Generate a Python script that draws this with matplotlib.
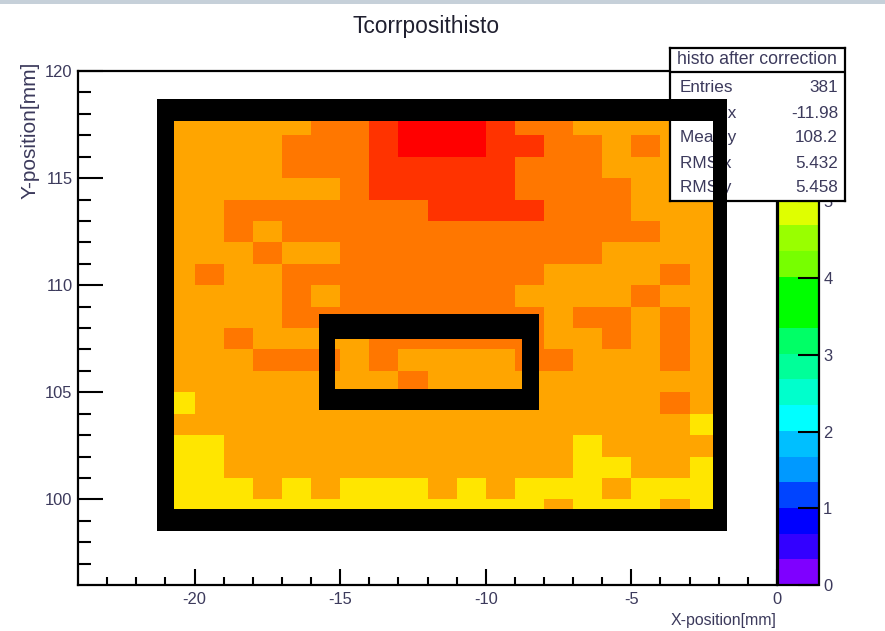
"""ROOT style COLZ histogram: Tcorrposithisto."""

import matplotlib

matplotlib.use("Agg")
import matplotlib.pyplot as plt
import numpy as np
from matplotlib import font_manager
from matplotlib.colors import BoundaryNorm, ListedColormap
from matplotlib.patches import Rectangle

# ---- data -------------------------------------------------------------
x_edges = np.arange(-21, -1)   # bin edges in mm, -21 .. -2
y_edges = np.arange(99, 119)   # bin edges in mm, 99 .. 118

# bin contents (top row = 117..118 mm)
Y, O, D, R, X = 5.2, 5.5, 5.85, 6.2, 6.55
contents_top_down = [
    [O, O, O, O, O, D, D, R, X, X, X, R, D, D, O, O, O, O, O],
    [O, O, O, O, D, D, D, R, X, X, X, R, R, D, D, O, D, O, O],
    [O, O, O, O, D, D, D, R, R, R, R, R, D, D, D, O, O, O, O],
    [O, O, O, O, O, O, D, R, R, R, R, R, D, D, D, D, O, O, O],
    [O, O, D, D, D, D, D, D, D, R, R, R, R, D, D, D, O, O, O],
    [O, O, D, O, D, D, D, D, D, D, D, D, D, D, D, D, D, O, O],
    [O, O, O, D, O, O, D, D, D, D, D, D, D, D, D, O, O, O, O],
    [O, D, O, O, D, D, D, D, D, D, D, D, D, O, O, O, O, D, O],
    [O, O, O, O, D, O, D, D, D, D, D, D, O, O, O, O, D, O, O],
    [O, O, O, O, D, D, D, D, D, D, D, D, D, O, D, D, O, D, O],
    [O, O, D, O, O, O, O, D, D, D, D, D, D, O, O, D, O, D, O],
    [O, O, O, D, D, D, O, D, O, O, O, O, D, D, O, O, O, D, O],
    [O, O, O, O, O, O, O, O, D, O, O, O, O, O, O, O, O, O, O],
    [Y, O, O, O, O, O, O, O, O, O, O, O, O, O, O, O, O, D, O],
    [O, O, O, O, O, O, O, O, O, O, O, O, O, O, O, O, O, O, Y],
    [Y, Y, O, O, O, O, O, O, O, O, O, O, O, O, Y, O, O, O, O],
    [Y, Y, O, O, O, O, O, O, O, O, O, O, O, O, Y, Y, O, O, Y],
    [Y, Y, Y, O, Y, O, Y, Y, Y, O, Y, O, Y, Y, Y, O, Y, Y, Y],
    [Y, Y, Y, Y, Y, Y, Y, Y, Y, Y, Y, Y, Y, O, Y, Y, Y, O, Y],
]

ZMAX = 6.7
z_ticks = [0, 1, 2, 3, 4, 5]
palette = [
    "#7f00ff", "#3300ff", "#0000ff", "#0044ff", "#0099ff",
    "#00bfff", "#00ffff", "#00ffcc", "#00ff99", "#00ff66",
    "#00ff00", "#00ff00", "#77ff00", "#99ff00", "#dfff00",
    "#ffe600", "#ffa500", "#ff7700", "#ff3300", "#ff0000",
]

stats_title = "histo after correction"
stats_names = ["Entries", "Mean x", "Mean y", "RMS x", "RMS y"]
stats_values = ["381", "-11.98", "108.2", "5.432", "5.458"]

# black boxes drawn over the map: (x_out0, x_out1, y_out0, y_out1, x_in0, x_in1, y_in0, y_in1)
outer_frame = (-21.28, -1.72, 98.54, 118.71, -20.69, -2.21, 99.55, 117.65)
inner_frame = (-15.73, -8.18, 104.15, 108.66, -15.16, -8.75, 105.16, 107.50)

# ---- layout -----------------------------------------------------------
W, H = 885, 631
TXT = "#3c3a5c"


def fig_rect(left, top, right, bottom):
    return [left / W, 1 - bottom / H, (right - left) / W, (bottom - top) / H]


names = {f.name for f in font_manager.fontManager.ttflist}
if "Liberation Sans Narrow" in names:
    NARROW, SCALE = "Liberation Sans Narrow", 1.0
else:
    NARROW, SCALE = "Liberation Sans", 0.82
plt.rcParams["font.family"] = [NARROW, "DejaVu Sans"]
plt.rcParams["axes.unicode_minus"] = False


def add_frame(fig, ax, box):
    xo0, xo1, yo0, yo1, xi0, xi1, yi0, yi1 = box
    bars = [
        (xo0, yo0, xi0 - xo0, yo1 - yo0),   # left
        (xi1, yo0, xo1 - xi1, yo1 - yo0),   # right
        (xo0, yi1, xo1 - xo0, yo1 - yi1),   # top
        (xo0, yo0, xo1 - xo0, yi0 - yo0),   # bottom
    ]
    for x0, y0, w, h in bars:
        fig.add_artist(Rectangle((x0, y0), w, h, transform=ax.transData,
                                 facecolor="black", edgecolor="none", zorder=5))


def main() -> None:
    fig = plt.figure(figsize=(W / 100, H / 100), dpi=100)
    fig.patches.append(Rectangle((0, 1 - 4 / H), 1, 4 / H, transform=fig.transFigure,
                                 facecolor="#c6d0d9", edgecolor="none"))

    ax = fig.add_axes(fig_rect(78, 71, 777, 585))
    cmap = ListedColormap(palette)
    norm = BoundaryNorm(np.linspace(0, ZMAX, len(palette) + 1), len(palette))
    values = np.flipud(np.array(contents_top_down))
    mesh = ax.pcolormesh(x_edges, y_edges, values, cmap=cmap, norm=norm,
                         edgecolors="none", antialiased=False)

    ax.set_xlim(-24, 0)
    ax.set_ylim(96, 120)
    ax.set_xticks(np.arange(-20, 1, 5))
    ax.set_xticks(np.arange(-23, 0, 1), minor=True)
    ax.set_yticks(np.arange(100, 121, 5))
    ax.set_yticks(np.arange(97, 120, 1), minor=True)
    for s in ax.spines.values():
        s.set_linewidth(1.6)
    ax.tick_params(axis="both", which="both", direction="in", width=1.5,
                   labelsize=14.5 * SCALE, labelcolor=TXT, top=False, right=False)
    ax.tick_params(axis="x", which="major", length=11.5, pad=5)
    ax.tick_params(axis="x", which="minor", length=5.8)
    ax.tick_params(axis="y", which="major", length=18, pad=4)
    ax.tick_params(axis="y", which="minor", length=9)

    # colour scale (its upper part sits under the stats box)
    cax = fig.add_axes(fig_rect(778, 71, 819, 585))
    cbar = fig.colorbar(mesh, cax=cax)
    cbar.set_ticks(z_ticks)
    cbar.outline.set_linewidth(1.6)
    cax.tick_params(direction="in", length=15, width=1.5, labelsize=14.5 * SCALE,
                    labelcolor=TXT, pad=3)
    cax.minorticks_off()

    # titles
    fig.text(426 / W, 1 - 26 / H, "Tcorrposithisto", ha="center", va="center",
             fontsize=20 * SCALE, color="#202030")
    fig.text(777 / W, 1 - 620 / H, "X-position[mm]", ha="right", va="center",
             fontsize=14 * SCALE, color=TXT)
    fig.text(30 / W, 1 - 62 / H, "Y-position[mm]", ha="center", va="top", rotation=90,
             fontsize=15, color=TXT, family=["Liberation Sans", "DejaVu Sans"])

    # stats box
    sax = fig.add_axes(fig_rect(670, 48, 845, 201), zorder=2)
    sax.set_xlim(670, 845)
    sax.set_ylim(201, 48)
    sax.set_xticks([])
    sax.set_yticks([])
    sax.set_facecolor("white")
    for s in sax.spines.values():
        s.set_linewidth(1.6)
    sax.axhline(72, color="black", lw=1.6)
    sax.text(757, 60, stats_title, ha="center", va="center",
             fontsize=15.5 * SCALE, color=TXT)
    row_y = [87, 113, 137, 163, 187]
    for name, val, yy in zip(stats_names, stats_values, row_y):
        sax.text(680, yy, name, ha="left", va="center", fontsize=15 * SCALE, color=TXT)
        sax.text(838, yy, val, ha="right", va="center", fontsize=15 * SCALE, color=TXT)

    add_frame(fig, ax, outer_frame)
    add_frame(fig, ax, inner_frame)

    fig.savefig("out.png", dpi=100)


if __name__ == "__main__":
    main()
